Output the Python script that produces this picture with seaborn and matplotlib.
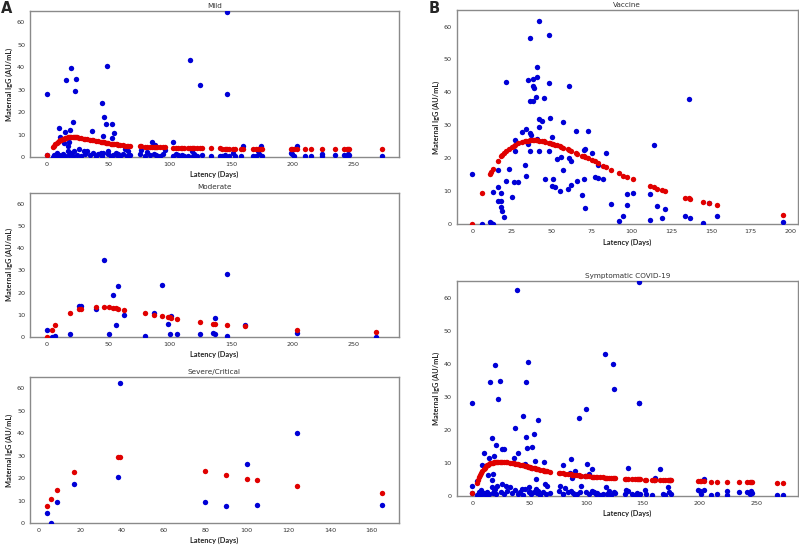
import numpy as np
import pandas as pd
import matplotlib
matplotlib.use("Agg")
import matplotlib.pyplot as plt
import seaborn as sns

# ---------------- data ----------------
mild_x = [0, 0, 5, 6, 7, 8, 9, 10, 10, 11,
          12, 13, 14, 15, 15, 16, 17, 17, 18, 18,
          19, 19, 20, 20, 21, 21, 22, 23, 24, 25,
          26, 28, 30, 31, 33, 35, 37, 38, 40, 42,
          44, 45, 45, 46, 46, 47, 48, 49, 50, 50,
          52, 53, 53, 54, 55, 56, 57, 58, 60, 62,
          64, 65, 66, 68, 76, 77, 80, 82, 84, 86,
          87, 88, 89, 90, 92, 95, 96, 103, 103, 105,
          107, 109, 110, 112, 115, 117, 118, 119, 120, 122,
          125, 126, 134, 141, 143, 145, 146, 147, 147, 148,
          152, 153, 158, 160, 168, 170, 172, 173, 174, 175,
          199, 200, 201, 204, 210, 215, 224, 224, 235, 242,
          244, 245, 246, 273]
mild_y = [28.1, 0.9, 0.2, 1.0, 0.4, 1.8, 0.6, 13.0, 0.8, 8.9,
          0.3, 1.2, 6.3, 11.3, 0.5, 34.4, 4.7, 2.5, 6.5, 0.7,
          12.1, 1.5, 39.7, 2.0, 15.4, 0.4, 2.8, 29.4, 34.8, 1.0,
          3.5, 0.6, 2.8, 1.5, 2.7, 0.8, 11.5, 1.6, 0.5, 1.2,
          2.0, 24.0, 0.3, 9.5, 1.9, 17.7, 14.5, 40.4, 1.2, 2.5,
          0.4, 14.6, 8.5, 1.0, 10.5, 2.0, 0.8, 1.5, 0.3, 1.2,
          3.5, 0.6, 2.9, 0.9, 1.5, 3.0, 0.4, 2.2, 1.0, 6.9,
          1.5, 5.3, 0.8, 0.3, 0.6, 1.2, 3.0, 6.5, 0.6, 1.5,
          1.0, 0.4, 0.8, 0.3, 0.6, 43.0, 2.5, 0.5, 1.5, 0.3,
          32.2, 0.7, 0.4, 0.5, 0.3, 0.9, 0.2, 64.6, 28.1, 0.6,
          1.8, 0.4, 0.3, 4.7, 0.6, 0.3, 2.5, 1.2, 4.8, 0.5,
          1.8, 1.5, 0.4, 5.0, 0.3, 0.4, 1.3, 0.3, 1.0, 1.0,
          0.6, 1.5, 0.8, 0.3]
mild_fit_x = [0, 5, 6, 7, 8, 9, 10, 11, 12, 13,
              14, 15, 16, 17, 18, 19, 20, 21, 22, 23,
              24, 25, 26, 28, 30, 31, 33, 35, 37, 38,
              40, 42, 44, 45, 46, 47, 48, 49, 50, 52,
              53, 54, 55, 56, 57, 58, 60, 62, 64, 65,
              66, 68, 76, 77, 80, 82, 84, 86, 87, 88,
              89, 90, 92, 95, 96, 103, 105, 107, 109, 110,
              112, 115, 117, 118, 119, 120, 122, 125, 126, 134,
              141, 143, 145, 146, 147, 148, 152, 153, 158, 160,
              168, 170, 172, 173, 174, 175, 199, 200, 201, 204,
              210, 215, 224, 235, 242, 244, 245, 246, 273]
mild_fit_y = [0.9, 4.5, 5.0, 5.6, 6.1, 6.6, 7.0, 7.4, 7.7, 8.0,
              8.2, 8.4, 8.6, 8.7, 8.8, 8.8, 8.9, 8.9, 8.8, 8.8,
              8.7, 8.7, 8.6, 8.4, 8.2, 8.1, 7.9, 7.7, 7.5, 7.4,
              7.2, 7.0, 6.8, 6.7, 6.6, 6.5, 6.4, 6.3, 6.2, 6.0,
              5.9, 5.8, 5.7, 5.6, 5.6, 5.5, 5.3, 5.2, 5.1, 5.0,
              5.0, 4.9, 4.7, 4.7, 4.6, 4.6, 4.5, 4.5, 4.5, 4.4,
              4.4, 4.4, 4.3, 4.3, 4.3, 4.1, 4.1, 4.0, 4.0, 4.0,
              4.0, 3.9, 3.9, 3.9, 3.9, 3.9, 3.9, 3.8, 3.8, 3.8,
              3.8, 3.7, 3.7, 3.7, 3.7, 3.7, 3.7, 3.7, 3.7, 3.7,
              3.7, 3.7, 3.7, 3.7, 3.7, 3.7, 3.6, 3.6, 3.6, 3.6,
              3.6, 3.6, 3.6, 3.6, 3.6, 3.6, 3.6, 3.6, 3.6]

mod_x = [0, 4, 7, 19, 26, 28, 40, 47, 51, 54, 56, 58, 63, 80, 87,
         94, 99, 100, 101, 106, 125, 135, 137, 137, 147, 147, 161, 204, 268]
mod_y = [3.0, 0.2, 0.3, 1.2, 14.0, 14.0, 12.8, 34.5, 1.2, 18.7, 5.2, 22.8, 10.1, 0.6, 11.0,
         23.4, 6.0, 1.2, 9.6, 1.2, 1.2, 1.8, 1.5, 8.5, 28.2, 0.3, 5.4, 1.8, 0.1]
mod_fit_x = [0, 4, 7, 19, 26, 28, 40, 47, 51, 54, 56, 58, 63, 80, 87,
             94, 99, 100, 101, 106, 125, 135, 137, 147, 161, 204, 268]
mod_fit_y = [0.0, 3.3, 5.4, 10.7, 12.4, 12.6, 13.4, 13.4, 13.3, 13.1, 13.0, 12.8, 12.2, 10.6, 9.9,
             9.3, 8.9, 8.8, 8.7, 8.2, 6.6, 6.0, 6.0, 5.4, 4.8, 3.3, 2.4]

sev_x = [4, 6, 9, 17, 38, 39, 80, 90, 100, 105, 124, 165]
sev_y = [4.3, 0.0, 9.2, 17.5, 20.4, 62.2, 9.3, 7.4, 26.2, 8.0, 39.9, 8.1]
sev_fit_y = [7.6, 10.7, 14.8, 22.5, 29.2, 29.2, 23.3, 21.3, 19.7, 19.0, 16.4, 13.2]

vac_x = [0, 6, 11, 12, 13, 13, 16, 16, 16, 18,
         18, 18, 19, 20, 21, 21, 23, 25, 26, 27,
         27, 29, 31, 33, 34, 34, 35, 35, 36, 36,
         36, 36, 37, 38, 38, 38, 39, 40, 41, 41,
         41, 42, 42, 42, 42, 44, 45, 46, 48, 48,
         48, 49, 50, 50, 51, 52, 53, 55, 56, 57,
         57, 60, 61, 61, 62, 62, 65, 66, 69, 70,
         70, 71, 71, 73, 75, 77, 79, 79, 82, 84,
         87, 92, 95, 97, 97, 101, 112, 112, 114, 116,
         119, 121, 134, 136, 137, 145, 149, 154, 195]
vac_y = [15.4, 0.0, 0.7, 0.3, 0.2, 9.9, 7.0, 11.3, 16.5, 9.6,
         7.2, 5.2, 4.1, 2.1, 43.3, 13.0, 16.8, 8.4, 12.7, 22.3,
         25.6, 12.9, 28.0, 17.9, 28.8, 14.6, 24.4, 43.8, 56.5, 37.5,
         22.1, 27.6, 27.2, 37.5, 44.2, 42.0, 41.3, 38.6, 47.7, 44.7,
         25.8, 31.9, 61.8, 29.5, 22.3, 31.3, 38.3, 13.7, 57.3, 43.0,
         22.3, 32.3, 26.4, 11.5, 13.8, 11.3, 19.7, 10.1, 20.5, 30.9,
         16.4, 10.7, 42.0, 20.2, 19.1, 12.0, 28.3, 13.0, 8.9, 13.8,
         22.4, 22.7, 5.0, 28.4, 21.5, 14.3, 14.1, 17.9, 13.8, 21.6,
         6.3, 1.1, 2.4, 9.1, 5.8, 9.6, 9.2, 1.2, 24.2, 5.5,
         1.9, 4.7, 2.5, 37.9, 1.8, 0.3, 6.6, 2.4, 0.8]
vac_fit_x = [0, 6, 11, 12, 13, 16, 18, 19, 20, 21,
             23, 25, 26, 27, 29, 31, 33, 34, 35, 36,
             37, 38, 39, 40, 41, 42, 44, 45, 46, 48,
             49, 50, 51, 52, 53, 55, 56, 57, 60, 61,
             62, 65, 66, 69, 70, 71, 73, 75, 77, 79,
             82, 84, 87, 92, 95, 97, 101, 112, 114, 116,
             119, 121, 134, 136, 137, 145, 149, 154, 195]
vac_fit_y = [0.0, 9.5, 15.2, 16.0, 16.8, 19.3, 20.6, 21.1, 21.7, 22.1,
             22.9, 23.6, 23.9, 24.1, 24.6, 24.9, 25.2, 25.3, 25.4, 25.5,
             25.5, 25.6, 25.6, 25.6, 25.5, 25.4, 25.3, 25.2, 25.0, 24.8,
             24.6, 24.5, 24.3, 24.2, 24.0, 23.7, 23.5, 23.3, 22.8, 22.5,
             22.3, 21.6, 21.4, 20.8, 20.6, 20.4, 20.0, 19.6, 19.1, 18.7,
             17.7, 17.3, 16.6, 15.5, 14.8, 14.4, 13.6, 11.5, 11.2, 10.8,
             10.3, 10.0, 8.1, 7.9, 7.7, 6.8, 6.5, 5.9, 2.9]

sym_fit_x = [0, 4, 5, 6, 7, 8, 9, 10, 11, 12,
             13, 14, 15, 16, 17, 18, 19, 20, 21, 22,
             23, 24, 25, 26, 28, 30, 31, 33, 35, 37,
             38, 39, 40, 42, 44, 45, 46, 47, 48, 49,
             50, 51, 52, 53, 54, 55, 56, 57, 58, 60,
             62, 63, 64, 65, 66, 68, 76, 77, 80, 82,
             84, 86, 87, 88, 89, 90, 92, 94, 95, 96,
             99, 100, 101, 103, 105, 106, 107, 109, 110, 112,
             115, 117, 118, 119, 120, 122, 124, 125, 126, 134,
             135, 137, 141, 143, 145, 146, 147, 148, 152, 153,
             158, 160, 161, 165, 168, 170, 172, 173, 174, 175,
             199, 200, 201, 204, 210, 215, 224, 235, 242, 244,
             245, 246, 268, 273]
sym_fit_y = [0.7, 3.9, 4.8, 5.6, 6.3, 7.0, 7.6, 8.1, 8.5, 8.9,
             9.2, 9.4, 9.6, 9.8, 9.9, 10.0, 10.1, 10.2, 10.2, 10.3,
             10.3, 10.3, 10.3, 10.3, 10.2, 10.1, 10.1, 10.0, 9.9, 9.8,
             9.7, 9.7, 9.6, 9.4, 9.3, 9.2, 9.1, 9.0, 8.9, 8.8,
             8.7, 8.6, 8.5, 8.4, 8.4, 8.3, 8.2, 8.1, 8.0, 7.9,
             7.7, 7.6, 7.5, 7.4, 7.4, 7.3, 7.0, 6.9, 6.8, 6.7,
             6.6, 6.5, 6.5, 6.4, 6.4, 6.3, 6.2, 6.2, 6.1, 6.1,
             6.0, 6.0, 5.9, 5.9, 5.8, 5.8, 5.8, 5.7, 5.7, 5.6,
             5.6, 5.5, 5.5, 5.5, 5.4, 5.4, 5.3, 5.3, 5.3, 5.1,
             5.1, 5.0, 5.0, 4.9, 4.9, 4.9, 4.9, 4.9, 4.8, 4.8,
             4.8, 4.7, 4.7, 4.7, 4.6, 4.6, 4.6, 4.6, 4.6, 4.6,
             4.4, 4.4, 4.4, 4.3, 4.2, 4.2, 4.1, 4.0, 4.0, 4.0,
             4.0, 4.0, 3.8, 3.8]

y_ticks = [0, 10, 20, 30, 40, 50, 60]
x_label = "Latency (Days)"
y_label = "Maternal IgG (AU/mL)"

# ---------------- style ----------------
sns.set_style("white")
plt.rcParams['font.family'] = ['DejaVu Sans']

BLUE = '#0000d6'
RED = '#e00000'
SPINE = '#8a8a8a'
TXT = '#333333'
MS = 15

fig = plt.figure(figsize=(7.99, 5.45), dpi=100)


def panel(rect, title, x, y, fx, fy, xticks=None, xlim=None):
    ax = fig.add_axes(rect)
    sns.scatterplot(x=x, y=y, color=BLUE, s=MS, linewidth=0, ax=ax, zorder=3)
    sns.scatterplot(x=fx, y=fy, color=RED, s=MS, linewidth=0, ax=ax, zorder=4)
    ax.set_ylim(0, 65)
    ax.set_yticks(y_ticks)
    if xticks is not None:
        ax.set_xticks(xticks)
    if xlim is not None:
        ax.set_xlim(xlim)
    ax.set_title(title, fontsize=5.2, color=TXT, pad=2.5)
    ax.set_xlabel(x_label, fontsize=5.3, fontweight='bold', family='Lato',
                  color='#222222', labelpad=3)
    ax.set_ylabel(y_label, fontsize=5.3, fontweight='bold', family='Lato',
                  color='#222222', labelpad=3)
    for sp in ax.spines.values():
        sp.set_color(SPINE)
        sp.set_linewidth(1.0)
    ax.tick_params(axis='both', labelsize=4.6, colors=TXT, length=2,
                   width=0.6, pad=1.5, direction='out')
    ax.tick_params(axis='both', color=SPINE)
    ax.grid(False)
    return ax


ax_mild = panel([0.0375, 0.7119, 0.4618, 0.2679], "Mild",
                mild_x, mild_y, mild_fit_x, mild_fit_y,
                xticks=[0, 50, 100, 150, 200, 250])
ax_mod = panel([0.0375, 0.3817, 0.4618, 0.2648], "Moderate",
               mod_x, mod_y, mod_fit_x, mod_fit_y,
               xticks=[0, 50, 100, 150, 200, 250], xlim=ax_mild.get_xlim())
ax_sev = panel([0.0375, 0.0404, 0.4618, 0.2679], "Severe/Critical",
               sev_x, sev_y, sev_x, sev_fit_y,
               xticks=[0, 20, 40, 60, 80, 100, 120, 140, 160])

ax_vac = panel([0.5716, 0.5884, 0.4272, 0.3932], "Vaccine",
               vac_x, vac_y, vac_fit_x, vac_fit_y,
               xticks=[0, 25, 50, 75, 100, 125, 150, 175, 200])

sym_x = mild_x + mod_x + sev_x
sym_y = mild_y + mod_y + sev_y
ax_sym = panel([0.5716, 0.0905, 0.4272, 0.3939], "Symptomatic COVID-19",
               sym_x, sym_y, sym_fit_x, sym_fit_y,
               xticks=[0, 50, 100, 150, 200, 250])

fig.text(0.001, 0.999, "A", fontsize=10.5, fontweight='bold', ha='left', va='top')
fig.text(0.536, 0.999, "B", fontsize=10.5, fontweight='bold', ha='left', va='top')

fig.savefig("out.png", dpi=100)
